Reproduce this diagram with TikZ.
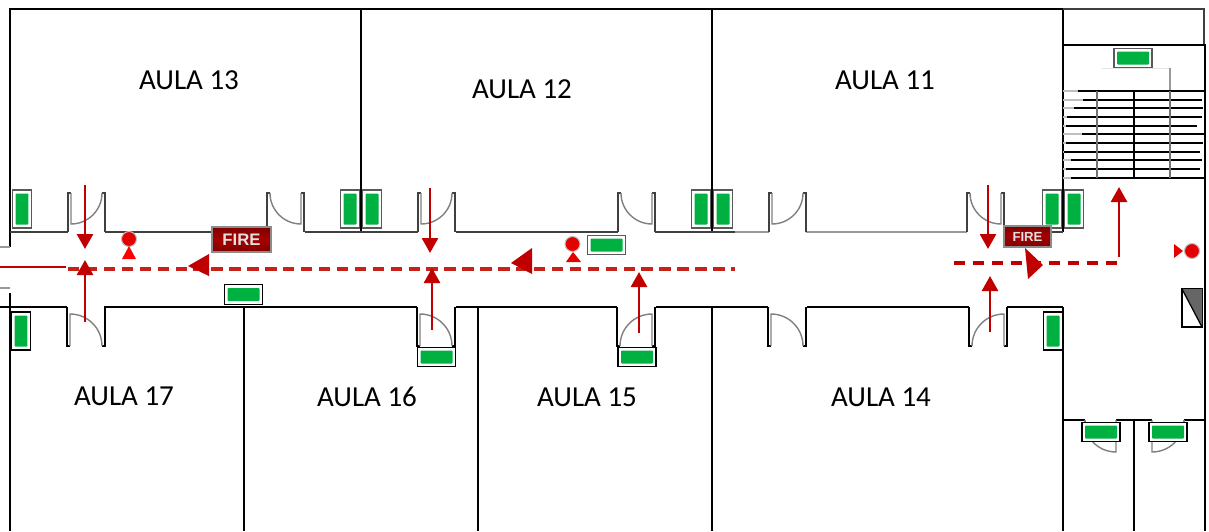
\documentclass[tikz,border=0pt]{standalone}
\usepackage{fontspec}
\setmainfont{Carlito}
\newfontfamily\signfont{Liberation Sans}
\usetikzlibrary{arrows.meta}
\definecolor{signgreen}{HTML}{00B040}
\definecolor{escape}{HTML}{C00000}
\definecolor{dashred}{HTML}{C9201A}
\begin{document}
\begin{tikzpicture}[x=0.02cm, y=-0.02cm, >={Triangle[length=0.3cm, width=0.32cm]}]
    \tikzset{wall/.style={draw=black, line width=1.1pt},
             oldwall/.style={draw=black!75, line width=0.95pt},
             palewall/.style={draw=black!40, line width=0.7pt},
             leaf/.style={draw=black!50, line width=0.8pt},
             room/.style={font=\fontsize{16.5}{18}\selectfont},
             sign_v/.style={line width=0.7pt, fill=white, minimum width=0.39cm, minimum height=0.76cm, inner sep=0pt},
             sign_h/.style={line width=0.7pt, fill=white, minimum width=0.76cm, minimum height=0.39cm, inner sep=0pt},
             green_v/.style={fill=signgreen, rounded corners=0.5pt, minimum width=0.26cm, minimum height=0.62cm, inner sep=0pt},
             green_h/.style={fill=signgreen, rounded corners=0.5pt, minimum width=0.64cm, minimum height=0.26cm, inner sep=0pt},
             fire/.style={draw=black!45, line width=0.9pt, top color=red!50!black, bottom color=red!50!black, middle color=red!65!black, text=black!12, inner sep=0pt, font=\signfont\bfseries},
             bell/.style={circle, fill=red!90!black, draw=black!25, line width=0.6pt, minimum size=0.3cm, inner sep=0pt},
             flow/.style={->, draw=escape, line width=1.5pt},
             route/.style={draw=dashred, line width=2pt, dash pattern=on 6.5pt off 3.7pt},
             tip/.style={fill=escape}}
    \useasboundingbox (0,0) rectangle (1209,531);

    % rooms and corridor walls
    \draw[wall] (10,247) -- (10,9) -- (1063,9) -- (1063,232);
    \draw[palewall] (0,247) -- (10,247) (0,288) -- (10,288);
    \draw[wall] (10,293) -- (10,531);
    \draw[wall] (361,9) -- (361,232) (712,9) -- (712,232);
    \draw[wall] (244,307) -- (244,531) (478,307) -- (478,531) (712,307) -- (712,531) (1063,307) -- (1063,531);
    \draw[oldwall] (10,232) -- (68,232) (105,232) -- (267,232) (305,232) -- (418,232) (456,232) -- (618,232) (655,232) -- (735,232);
    \draw[palewall] (735,232) -- (769,232) (806,232) -- (967,232);
    \draw[oldwall] (1005,232) -- (1063,232);
    \draw[wall] (0,307) -- (67,307) (104,307) -- (417,307) (456,307) -- (617,307) (656,307) -- (768,307) (807,307) -- (969,307) (1007,307) -- (1063,307);

    % doors, top side
    \foreach \jamb in {68,418,769} {
        \draw[oldwall] (\jamb,232) -- (\jamb,193) -- ({\jamb+3},193) (\jamb+37,232) -- (\jamb+37,193) -- (\jamb+34,193);
        \draw[leaf] ({\jamb+3},193) -- ({\jamb+3},224) arc[start angle=90, end angle=0, radius=31];
    }
    \foreach \jamb in {267,618,967} {
        \draw[oldwall] (\jamb,232) -- (\jamb,193) -- ({\jamb+3},193) (\jamb+37,232) -- (\jamb+37,193) -- (\jamb+34,193);
        \draw[leaf] ({\jamb+34},193) -- ({\jamb+34},224) arc[start angle=90, end angle=180, radius=31];
    }
    % doors, bottom side
    \foreach \jamb in {67,417,768} {
        \draw[wall] (\jamb,307) -- (\jamb,346) -- ({\jamb+3},346) (\jamb+38,307) -- (\jamb+38,346) -- (\jamb+35,346);
        \draw[leaf] ({\jamb+3},346) -- ({\jamb+3},314) arc[start angle=270, end angle=360, radius=32];
    }
    \foreach \jamb in {617,969} {
        \draw[wall] (\jamb,307) -- (\jamb,346) -- ({\jamb+3},346) (\jamb+38,307) -- (\jamb+38,346) -- (\jamb+35,346);
        \draw[leaf] ({\jamb+35},346) -- ({\jamb+35},314) arc[start angle=270, end angle=180, radius=32];
    }

    % stair block
    \draw[oldwall] (1063,9) -- (1204,9) -- (1204,45);
    \draw[wall] (1063,45) -- (1205,45) -- (1205,531);
    \draw[black!10, line width=0.4pt] (1102,68) -- (1170,68);
    \draw[black!40, line width=0.6pt] (1170,68) -- (1170,90);
    \foreach \py/\from/\upto in {91/1078/1204,100/1083/1202,108/1074/1203,117/1067/1202,126/1066/1197,134/1082/1204,143/1066/1203,152/1064/1200,160/1071/1202,169/1066/1200,178/1071/1204} {
        \draw[black!25, line width=0.8pt] (1063,\py) -- (\from,\py);
        \draw[wall] (\from,\py) -- (\upto,\py);
    }
    \draw[black!55, line width=1pt] (1097,91) -- (1097,178) (1170,91) -- (1170,178);
    \draw[wall] (1134,91) -- (1134,178);

    % lower right closets
    \draw[wall] (1063,420) -- (1085,420) (1116,420) -- (1152,420) (1184,420) -- (1205,420);
    \draw[wall] (1134,420) -- (1134,531);
    \draw[leaf] (1085,420) -- (1085,430) (1184,420) -- (1184,430);
    \draw[leaf] (1116,420) -- (1116,452) arc[start angle=90, end angle=140, radius=32];
    \draw[leaf] (1152,420) -- (1152,452) arc[start angle=90, end angle=40, radius=32];

    % extinguisher cabinet
    \draw[wall] (1182,289) rectangle (1202,327);
    \fill[black!60] (1182,289) -- (1202,289) -- (1202,327) -- cycle;
    \draw[black, line width=0.7pt] (1182,289) -- (1202,327);

    % green signs
    \foreach \name/\px/\py/\edge in {a/22/209/black!65,b/350/209/black!65,c/372/209/black!65,d/701/209/black!65,e/723/209/black!65,f/1052/209/black!65,g/1074/209/black!65,h/21/331/black,i/1053/331/black} {
        \node[sign_v, draw=\edge] (sign_\name) at (\px,\py) {};
        \node[green_v] (green_\name) at (sign_\name) {};
    }
    \foreach \name/\px/\py/\edge in {j/243.5/294.5/black,k/606.5/245/black!65,l/436.5/357/black,m/637/357/black,n/1133/58/black!65,o/1101/432/black,p/1168/432/black} {
        \node[sign_h, draw=\edge] (sign_\name) at (\px,\py) {};
        \node[green_h] (green_\name) at (sign_\name) {};
    }

    % alarms
    \node[bell] (bell_a) at (129,239) {};
    \fill[red] (129,246) -- (136,259) -- (122,259) -- cycle;
    \node[bell] (bell_b) at (572.5,244) {};
    \fill[red!90!black] (573,252) -- (581,262) -- (566,262) -- cycle;
    \node[bell] (bell_c) at (1192,251) {};
    \fill[red!90!black] (1183,251) -- (1174,244) -- (1174,258) -- cycle;

    \node[fire, minimum width=1.18cm, minimum height=0.5cm, font=\signfont\bfseries\fontsize{9.5}{10}\selectfont] (fire_a) at (241.5,239.5) {FIRE};
    \node[fire, minimum width=0.94cm, minimum height=0.41cm, font=\signfont\bfseries\fontsize{7.5}{8}\selectfont] (fire_b) at (1027.5,236.5) {FIRE};

    % escape routes
    \draw[escape, line width=1pt] (0,267) -- (66,267);
    \draw[route] (68,269) -- (735,269);
    \draw[route, draw=escape, line width=1.8pt, dash pattern=on 6.3pt off 4.5pt] (954,263) -- (1120,263);
    \coordinate (run_a) at (85,185);   \coordinate (stop_a) at (85,249);
    \coordinate (run_b) at (430,188);  \coordinate (stop_b) at (430,253);
    \coordinate (run_c) at (988,185);  \coordinate (stop_c) at (988,249);
    \coordinate (run_d) at (85,322);   \coordinate (stop_d) at (85,260);
    \coordinate (run_e) at (432,330);  \coordinate (stop_e) at (432,268);
    \coordinate (run_f) at (639,333);  \coordinate (stop_f) at (639,272);
    \coordinate (run_g) at (990,332);  \coordinate (stop_g) at (990,276);
    \coordinate (run_h) at (1119,257); \coordinate (stop_h) at (1119,187);
    \foreach \leg in {a,b,c,d,e,f,g,h}
        \draw[flow] (run_\leg) -- (stop_\leg);
    \fill[tip] (188,266) -- (209,254) -- (209,276) -- cycle;
    \fill[tip] (511,263) -- (532,248) -- (532,274) -- cycle;
    \fill[tip] (1043,265) -- (1025,248) -- (1028,279) -- cycle;

    % room names
    \node[room] (aula_13) at (189,80)  {AULA 13};
    \node[room] (aula_12) at (522,89)  {AULA 12};
    \node[room] (aula_11) at (885,80)  {AULA 11};
    \node[room] (aula_17) at (124,396) {AULA 17};
    \node[room] (aula_16) at (367,397) {AULA 16};
    \node[room] (aula_15) at (587,397) {AULA 15};
    \node[room] (aula_14) at (881,397) {AULA 14};
\end{tikzpicture}
\end{document}
